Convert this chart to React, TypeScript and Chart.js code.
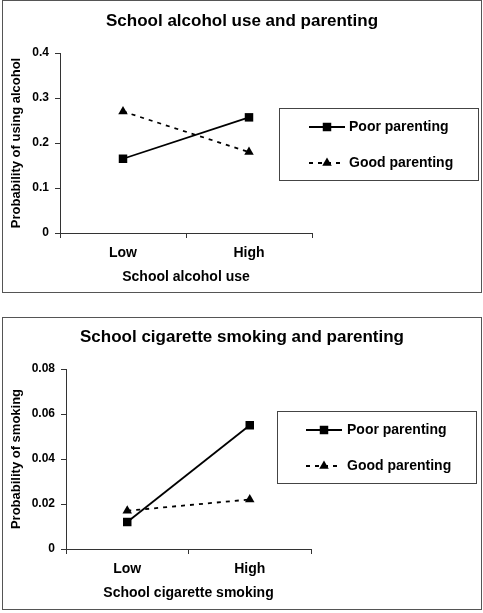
import React, { useEffect, useRef } from 'react';
import { Chart, registerables } from 'chart.js';

Chart.register(...registerables);

// ---------- data ----------
const seriesNames = ['Poor parenting', 'Good parenting'];

const alcoholTitle = 'School alcohol use and parenting';
const alcoholCategories = ['Low', 'High'];
const alcoholPoor = [0.165, 0.257];
const alcoholGood = [0.27, 0.18];
const alcoholYTitle = 'Probability of using alcohol';
const alcoholXTitle = 'School alcohol use';
const alcoholYMax = 0.4;
const alcoholYStep = 0.1;

const smokingTitle = 'School cigarette smoking and parenting';
const smokingCategories = ['Low', 'High'];
const smokingPoor = [0.012, 0.055];
const smokingGood = [0.017, 0.022];
const smokingYTitle = 'Probability of smoking';
const smokingXTitle = 'School cigarette smoking';
const smokingYMax = 0.08;
const smokingYStep = 0.02;

// ---------- styling ----------
const FONT = "'Liberation Sans', Arial, Helvetica, sans-serif";
const AXIS = '#333';

function drawMarker(ctx: CanvasRenderingContext2D, style: string, x: number, y: number, r: number) {
  ctx.fillStyle = '#000';
  ctx.beginPath();
  if (style === 'rect') {
    const s = Math.SQRT1_2 * r;
    ctx.rect(x - s, y - s, 2 * s, 2 * s);
  } else {
    let a = 0;
    ctx.moveTo(x + Math.sin(a) * r, y - Math.cos(a) * r);
    a += (2 * Math.PI) / 3;
    ctx.lineTo(x + Math.sin(a) * r, y - Math.cos(a) * r);
    a += (2 * Math.PI) / 3;
    ctx.lineTo(x + Math.sin(a) * r, y - Math.cos(a) * r);
    ctx.closePath();
  }
  ctx.fill();
}

const decorPlugin = {
  id: 'panelDecor',
  afterDraw(chart: any, _args: any, opts: any) {
    const ctx: CanvasRenderingContext2D = chart.ctx;
    ctx.save();
    ctx.fillStyle = '#000';
    ctx.font = `bold 17px ${FONT}`;
    ctx.textAlign = 'center';
    ctx.textBaseline = 'middle';
    ctx.fillText(opts.title, opts.titleX, opts.titleY);

    const b = opts.box;
    ctx.strokeStyle = '#444';
    ctx.lineWidth = 1;
    ctx.strokeRect(b.x + 0.5, b.y + 0.5, b.w, b.h);

    chart.data.datasets.forEach((ds: any, i: number) => {
      const y = opts.rows[i];
      ctx.strokeStyle = ds.borderColor;
      ctx.lineWidth = ds.borderWidth;
      ctx.setLineDash(ds.borderDash || []);
      ctx.beginPath();
      ctx.moveTo(opts.lineX[0], y);
      ctx.lineTo(opts.lineX[1], y);
      ctx.stroke();
      ctx.setLineDash([]);
      const cx = (opts.lineX[0] + opts.lineX[1]) / 2;
      drawMarker(ctx, ds.pointStyle, cx, y, ds.pointRadius);
      ctx.fillStyle = '#000';
      ctx.font = `bold 14px ${FONT}`;
      ctx.textAlign = 'left';
      ctx.textBaseline = 'middle';
      ctx.fillText(ds.label, opts.textX, y);
    });
    ctx.restore();
  },
};

function makeConfig(p: any): any {
  return {
    type: 'line',
    data: {
      labels: p.categories,
      datasets: [
        {
          label: seriesNames[0],
          data: p.poor,
          borderColor: '#000',
          backgroundColor: '#000',
          borderWidth: 1.8,
          pointStyle: 'rect',
          pointRadius: 6,
          pointBorderWidth: 0,
          tension: 0,
        },
        {
          label: seriesNames[1],
          data: p.good,
          borderColor: '#000',
          backgroundColor: '#000',
          borderWidth: 1.8,
          borderDash: [4, 5],
          pointStyle: 'triangle',
          pointRadius: 5.5,
          pointBorderWidth: 0,
          tension: 0,
        },
      ],
    },
    options: {
      responsive: false,
      animation: false,
      layout: { padding: { top: 53, right: p.padRight, left: 0, bottom: 0 } },
      plugins: {
        legend: { display: false },
        title: { display: false },
        tooltip: { enabled: false },
        panelDecor: p.decor,
      },
      scales: {
        x: {
          type: 'category',
          offset: true,
          grid: { offset: true, drawOnChartArea: false, drawTicks: true, tickLength: 5, color: AXIS },
          border: { display: true, color: AXIS, width: 1 },
          ticks: { color: '#000', padding: 7, font: { family: FONT, size: 14, weight: 'bold' } },
          title: {
            display: true,
            text: p.xTitle,
            color: '#000',
            font: { family: FONT, size: 14, weight: 'bold' },
            padding: { top: 0, bottom: 7 },
          },
          afterFit: (s: any) => { s.height = 60; },
        },
        y: {
          min: 0,
          max: p.yMax,
          ticks: { stepSize: p.yStep, color: '#000', padding: 6, font: { family: FONT, size: 12, weight: 'bold' } },
          grid: { drawOnChartArea: false, drawTicks: true, tickLength: 5, color: AXIS },
          border: { display: true, color: AXIS, width: 1 },
          title: {
            display: true,
            text: p.yTitle,
            color: '#000',
            font: { family: FONT, size: 13, weight: 'bold' },
            padding: { top: 9, bottom: 0 },
          },
          afterFit: (s: any) => { s.width = p.yWidth; },
        },
      },
    },
    plugins: [decorPlugin],
  };
}

function Panel({ config, top, borderTop }: { config: any; top: number; borderTop: number }) {
  const ref = useRef<HTMLCanvasElement | null>(null);
  useEffect(() => {
    if (!ref.current) return;
    const chart = new Chart(ref.current, config);
    return () => chart.destroy();
  }, [config]);
  return (
    <>
      <div
        style={{
          position: 'absolute',
          left: 2,
          top: borderTop,
          width: 480,
          height: 293,
          boxSizing: 'border-box',
          border: '1px solid #555',
        }}
      />
      <canvas
        ref={ref}
        width={483}
        height={293}
        style={{ position: 'absolute', left: 0, top, display: 'block' }}
      />
    </>
  );
}

const alcoholConfig = makeConfig({
  categories: alcoholCategories,
  poor: alcoholPoor,
  good: alcoholGood,
  xTitle: alcoholXTitle,
  yTitle: alcoholYTitle,
  yMax: alcoholYMax,
  yStep: alcoholYStep,
  yWidth: 60,
  padRight: 171,
  decor: {
    title: alcoholTitle,
    titleX: 242,
    titleY: 21,
    box: { x: 279, y: 108, w: 199, h: 72 },
    rows: [127, 163],
    lineX: [309, 345],
    textX: 349,
  },
});

const smokingConfig = makeConfig({
  categories: smokingCategories,
  poor: smokingPoor,
  good: smokingGood,
  xTitle: smokingXTitle,
  yTitle: smokingYTitle,
  yMax: smokingYMax,
  yStep: smokingYStep,
  yWidth: 66,
  padRight: 172,
  decor: {
    title: smokingTitle,
    titleX: 242,
    titleY: 21,
    box: { x: 277, y: 95, w: 199, h: 72 },
    rows: [114, 150],
    lineX: [306, 342],
    textX: 347,
  },
});

export default function App() {
  return (
    <div style={{ position: 'absolute', left: 0, top: 0, width: 483, height: 613, background: '#fff' }}>
      <Panel config={alcoholConfig} top={0} borderTop={0} />
      <Panel config={smokingConfig} top={316} borderTop={317} />
    </div>
  );
}
